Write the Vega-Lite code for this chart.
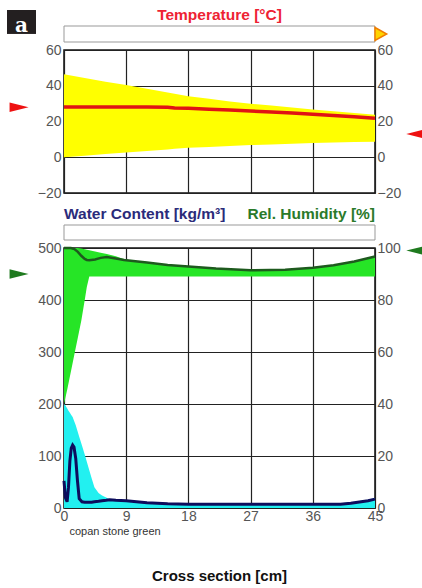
{
  "$schema": "https://vega.github.io/schema/vega-lite/v6.json",
  "background": "white",
  "padding": {"left": 6, "top": 8, "right": 0, "bottom": 0},
  "bounds": "flush",
  "spacing": 8,
  "title": {
    "text": "Cross section [cm]",
    "orient": "bottom",
    "frame": "group",
    "anchor": "middle",
    "offset": 32,
    "fontSize": 15,
    "fontWeight": "bold",
    "color": "#111111"
  },
  "config": {
    "font": "Liberation Sans",
    "view": {"stroke": "#111111", "strokeWidth": 1.5},
    "axis": {
      "labelFont": "Liberation Sans",
      "labelFontSize": 14,
      "labelColor": "#555555",
      "ticks": false,
      "domain": false,
      "gridColor": "#222222",
      "gridOpacity": 1,
      "gridWidth": 1.2,
      "labelOverlap": false,
      "labelFlush": false,
      "zindex": 1
    }
  },
  "datasets": {
    "temp": [
      {"x": 0, "lo": 0, "hi": 46.4, "t": 28.1},
      {"x": 3, "lo": 0.9, "hi": 44.3, "t": 28.1},
      {"x": 6, "lo": 1.8, "hi": 42.3, "t": 28.1},
      {"x": 9, "lo": 2.6, "hi": 40.4, "t": 28.1},
      {"x": 12, "lo": 3.5, "hi": 38.3, "t": 28.1},
      {"x": 15, "lo": 4.4, "hi": 36.2, "t": 28.0},
      {"x": 16, "lo": 4.7, "hi": 35.5, "t": 27.6},
      {"x": 18, "lo": 5.3, "hi": 34.1, "t": 27.4},
      {"x": 21, "lo": 5.8, "hi": 32.7, "t": 26.9},
      {"x": 24, "lo": 6.3, "hi": 31.2, "t": 26.4},
      {"x": 27, "lo": 6.8, "hi": 30.0, "t": 25.9},
      {"x": 30, "lo": 7.2, "hi": 28.9, "t": 25.3},
      {"x": 33, "lo": 7.6, "hi": 27.8, "t": 24.7},
      {"x": 36, "lo": 8.0, "hi": 26.7, "t": 24.1},
      {"x": 39, "lo": 8.3, "hi": 25.7, "t": 23.4},
      {"x": 42, "lo": 8.5, "hi": 24.7, "t": 22.6},
      {"x": 45, "lo": 8.7, "hi": 23.8, "t": 21.8}
    ],
    "wc": [
      {"x": 0, "wc": 52, "hi": 200},
      {"x": 0.2, "wc": 20, "hi": 197},
      {"x": 0.45, "wc": 12, "hi": 192},
      {"x": 0.65, "wc": 40, "hi": 187},
      {"x": 0.85, "wc": 90, "hi": 183},
      {"x": 1.05, "wc": 115, "hi": 179},
      {"x": 1.25, "wc": 121, "hi": 175},
      {"x": 1.45, "wc": 117, "hi": 168},
      {"x": 1.7, "wc": 95, "hi": 159},
      {"x": 1.95, "wc": 52, "hi": 148},
      {"x": 2.2, "wc": 18, "hi": 137},
      {"x": 2.6, "wc": 12, "hi": 120},
      {"x": 3.0, "wc": 11, "hi": 103},
      {"x": 3.5, "wc": 11, "hi": 80},
      {"x": 4.0, "wc": 11, "hi": 57},
      {"x": 4.4, "wc": 12, "hi": 40},
      {"x": 5.0, "wc": 13, "hi": 29},
      {"x": 5.5, "wc": 14, "hi": 24},
      {"x": 6.1, "wc": 15, "hi": 20},
      {"x": 6.6, "wc": 16, "hi": 17},
      {"x": 7.5, "wc": 15, "hi": 16},
      {"x": 9, "wc": 14, "hi": 15},
      {"x": 10.5, "wc": 12, "hi": 13},
      {"x": 12, "wc": 10, "hi": 11},
      {"x": 15, "wc": 8, "hi": 9},
      {"x": 18, "wc": 7, "hi": 8},
      {"x": 24, "wc": 7, "hi": 8},
      {"x": 30, "wc": 7, "hi": 8},
      {"x": 36, "wc": 7, "hi": 8},
      {"x": 40, "wc": 7, "hi": 9},
      {"x": 41.5, "wc": 9, "hi": 11},
      {"x": 43, "wc": 12, "hi": 14},
      {"x": 44, "wc": 14, "hi": 16},
      {"x": 45, "wc": 17, "hi": 19}
    ],
    "rh": [
      {"x": 0, "lo": 40, "hi": 100, "rh": 100},
      {"x": 0.5, "lo": 46, "hi": 100, "rh": 100},
      {"x": 1.0, "lo": 52.5, "hi": 100, "rh": 100},
      {"x": 1.5, "lo": 59, "hi": 100, "rh": 99.6},
      {"x": 2.0, "lo": 65.5, "hi": 100, "rh": 98.5},
      {"x": 2.5, "lo": 72, "hi": 99.8, "rh": 97},
      {"x": 3.0, "lo": 80, "hi": 99.5, "rh": 95.8},
      {"x": 3.3, "lo": 85, "hi": 99.3, "rh": 95.4},
      {"x": 3.66, "lo": 89, "hi": 99.1, "rh": 95.3},
      {"x": 4.5, "lo": 89, "hi": 98.7, "rh": 95.6},
      {"x": 5.3, "lo": 89, "hi": 98.2, "rh": 96.2},
      {"x": 6.2, "lo": 89, "hi": 97.7, "rh": 96.5},
      {"x": 7.5, "lo": 89, "hi": 96.8, "rh": 96.0},
      {"x": 8.7, "lo": 89, "hi": 95.7, "rh": 95.4},
      {"x": 10, "lo": 89, "hi": 95.0, "rh": 95.0},
      {"x": 12, "lo": 89, "hi": 94.4, "rh": 94.4},
      {"x": 15, "lo": 89, "hi": 93.5, "rh": 93.5},
      {"x": 18, "lo": 89, "hi": 92.9, "rh": 92.9},
      {"x": 22, "lo": 89, "hi": 92.1, "rh": 92.1},
      {"x": 27, "lo": 89, "hi": 91.4, "rh": 91.4},
      {"x": 32, "lo": 89, "hi": 91.6, "rh": 91.6},
      {"x": 36, "lo": 89, "hi": 92.4, "rh": 92.4},
      {"x": 39, "lo": 89, "hi": 93.4, "rh": 93.4},
      {"x": 42, "lo": 89, "hi": 94.8, "rh": 94.8},
      {"x": 45, "lo": 89, "hi": 96.7, "rh": 96.7}
    ]
  },
  "vconcat": [
    {
      "width": 311,
      "height": 32,
      "view": {"stroke": null},
      "layer": [
        {
          "data": {"values": [{"start": 0, "end": 45, "row": "bar"}]},
          "mark": {"type": "rect", "fill": "white", "stroke": "#999999", "strokeWidth": 1},
          "encoding": {
            "x": {"field": "start", "type": "quantitative", "scale": {"domain": [0, 45], "nice": false, "zero": false}, "axis": null},
            "x2": {"field": "end"},
            "y": {"field": "row", "type": "nominal", "scale": {"domain": ["title", "bar"], "paddingInner": 0, "paddingOuter": 0}, "axis": null}
          }
        },
        {
          "data": {"values": [{"pos": 45, "row": "bar"}]},
          "mark": {"type": "point", "shape": "M0,-1L1.8,0L0,1Z", "size": 169, "filled": true, "fill": "#ffd400", "stroke": "#f07d00", "strokeWidth": 1.5, "opacity": 1},
          "encoding": {
            "x": {"field": "pos", "type": "quantitative"},
            "y": {"field": "row", "type": "nominal"}
          }
        },
        {
          "data": {"values": [{"pos": 22.5, "row": "title", "label": "Temperature [°C]"}]},
          "mark": {"type": "text", "fontSize": 15.5, "fontWeight": "bold", "color": "#ee2233", "dy": -3},
          "encoding": {
            "x": {"field": "pos", "type": "quantitative"},
            "y": {"field": "row", "type": "nominal"},
            "text": {"field": "label"}
          }
        },
        {
          "data": {"values": [{"pos": -6.15, "row": "title", "label": "a"}]},
          "layer": [
            {
              "mark": {"type": "point", "shape": "M-1,-0.55H1V1.1H-1Z", "size": 841, "filled": true, "color": "#231f20", "opacity": 1},
              "encoding": {
                "x": {"field": "pos", "type": "quantitative"},
                "y": {"field": "row", "type": "nominal"}
              }
            },
            {
              "mark": {"type": "text", "font": "DejaVu Serif", "fontWeight": "bold", "fontSize": 20, "color": "white", "baseline": "alphabetic", "dy": 13.5},
              "encoding": {
                "x": {"field": "pos", "type": "quantitative"},
                "y": {"field": "row", "type": "nominal"},
                "text": {"field": "label"}
              }
            }
          ]
        }
      ]
    },
    {
      "width": 311,
      "height": 143,
      "layer": [
        {
          "layer": [
            {
              "data": {"name": "temp"},
              "mark": {"type": "area", "color": "#ffff00", "opacity": 1},
              "encoding": {
                "x": {"field": "x", "type": "quantitative", "scale": {"domain": [0, 45], "nice": false, "zero": false}, "axis": {"values": [0, 9, 18, 27, 36, 45], "labels": false, "grid": true}, "title": null},
                "y": {"field": "lo", "type": "quantitative", "scale": {"domain": [-20, 60], "nice": false}, "axis": {"values": [-20, 0, 20, 40, 60], "grid": true, "labelPadding": 3}, "title": null},
                "y2": {"field": "hi"}
              }
            },
            {
              "data": {"name": "temp"},
              "mark": {"type": "line", "color": "#e01414", "strokeWidth": 3.5},
              "encoding": {
                "x": {"field": "x", "type": "quantitative"},
                "y": {"field": "t", "type": "quantitative", "axis": {"values": [-20, 0, 20, 40, 60], "grid": true, "labelPadding": 3}, "title": null}
              }
            },
            {
              "data": {"values": [{"x": -6.5, "v": 28}]},
              "mark": {"type": "point", "shape": "M-1,-0.5L1,0L-1,0.5Z", "size": 361, "filled": true, "color": "#ee1111", "opacity": 1},
              "encoding": {
                "x": {"field": "x", "type": "quantitative"},
                "y": {"field": "v", "type": "quantitative", "axis": {"values": [-20, 0, 20, 40, 60], "grid": true, "labelPadding": 3}, "title": null}
              }
            }
          ]
        },
        {
          "data": {"values": [{"x": 50.9, "v": 13}]},
          "mark": {"type": "point", "shape": "M1,-0.5L-1,0L1,0.5Z", "size": 361, "filled": true, "color": "#ee1111", "opacity": 1},
          "encoding": {
            "x": {"field": "x", "type": "quantitative"},
            "y": {"field": "v", "type": "quantitative", "scale": {"domain": [-20, 60], "nice": false}, "axis": {"orient": "right", "values": [-20, 0, 20, 40, 60], "grid": false, "labelPadding": 2}, "title": null}
          }
        }
      ],
      "resolve": {"scale": {"y": "independent"}}
    },
    {
      "width": 311,
      "height": 39,
      "view": {"stroke": null},
      "layer": [
        {
          "data": {"values": [{"start": 0, "end": 45, "row": "bar"}]},
          "mark": {"type": "rect", "fill": "white", "stroke": "#999999", "strokeWidth": 1},
          "encoding": {
            "x": {"field": "start", "type": "quantitative", "scale": {"domain": [0, 45], "nice": false, "zero": false}, "axis": null},
            "x2": {"field": "end"},
            "y": {"field": "row", "type": "nominal", "scale": {"domain": ["title", "bar"], "paddingInner": 0, "paddingOuter": 0.3, "align": 1}, "axis": null}
          }
        },
        {
          "data": {"values": [{"pos": 0, "row": "title", "label": "Water Content [kg/m³]"}]},
          "mark": {"type": "text", "fontSize": 15.5, "fontWeight": "bold", "color": "#2b2b7a", "align": "left", "dy": -4},
          "encoding": {
            "x": {"field": "pos", "type": "quantitative"},
            "y": {"field": "row", "type": "nominal"},
            "text": {"field": "label"}
          }
        },
        {
          "data": {"values": [{"pos": 45, "row": "title", "label": "Rel. Humidity [%]"}]},
          "mark": {"type": "text", "fontSize": 15.5, "fontWeight": "bold", "color": "#2a7a2a", "align": "right", "dy": -4},
          "encoding": {
            "x": {"field": "pos", "type": "quantitative"},
            "y": {"field": "row", "type": "nominal"},
            "text": {"field": "label"}
          }
        }
      ]
    },
    {
      "width": 311,
      "height": 260,
      "layer": [
        {
          "data": {"name": "wc"},
          "layer": [
            {
              "mark": {"type": "area", "color": "#22f0f0", "opacity": 1},
              "encoding": {
                "x": {"field": "x", "type": "quantitative", "scale": {"domain": [0, 45], "nice": false, "zero": false}, "axis": {"values": [0, 9, 18, 27, 36, 45], "grid": true, "labelPadding": 1, "titleAnchor": "start", "titleFontSize": 11, "titleFontWeight": "normal", "titleColor": "#333333", "titlePadding": 2, "titleX": 5, "titleAlign": "left"}, "title": "copan stone green"},
                "y": {"field": "hi", "type": "quantitative", "scale": {"domain": [0, 500], "nice": false}, "axis": {"values": [0, 100, 200, 300, 400, 500], "grid": true, "labelPadding": 3}, "title": null},
                "y2": {"datum": 0}
              }
            },
            {
              "mark": {"type": "line", "color": "#0d0d5c", "strokeWidth": 3},
              "encoding": {
                "x": {"field": "x", "type": "quantitative"},
                "y": {"field": "wc", "type": "quantitative", "axis": {"values": [0, 100, 200, 300, 400, 500], "grid": true, "labelPadding": 3}, "title": null}
              }
            }
          ]
        },
        {
          "layer": [
            {
              "data": {"name": "rh"},
              "mark": {"type": "area", "color": "#26e526", "opacity": 1},
              "encoding": {
                "x": {"field": "x", "type": "quantitative"},
                "y": {"field": "lo", "type": "quantitative", "scale": {"domain": [0, 100], "nice": false}, "axis": {"orient": "right", "values": [0, 20, 40, 60, 80, 100], "grid": false, "labelPadding": 2}, "title": null},
                "y2": {"field": "hi"}
              }
            },
            {
              "data": {"name": "rh"},
              "mark": {"type": "line", "color": "#1e5a1e", "strokeWidth": 2.5},
              "encoding": {
                "x": {"field": "x", "type": "quantitative"},
                "y": {"field": "rh", "type": "quantitative", "axis": {"orient": "right", "values": [0, 20, 40, 60, 80, 100], "grid": false, "labelPadding": 2}, "title": null}
              }
            },
            {
              "data": {"values": [{"x": -6.5, "v": 90}]},
              "mark": {"type": "point", "shape": "M-1,-0.5L1,0L-1,0.5Z", "size": 361, "filled": true, "color": "#1f7a1f", "opacity": 1},
              "encoding": {
                "x": {"field": "x", "type": "quantitative"},
                "y": {"field": "v", "type": "quantitative", "axis": {"orient": "right", "values": [0, 20, 40, 60, 80, 100], "grid": false, "labelPadding": 2}, "title": null}
              }
            },
            {
              "data": {"values": [{"x": 50.9, "v": 99}]},
              "mark": {"type": "point", "shape": "M1,-0.5L-1,0L1,0.5Z", "size": 361, "filled": true, "color": "#1f7a1f", "opacity": 1},
              "encoding": {
                "x": {"field": "x", "type": "quantitative"},
                "y": {"field": "v", "type": "quantitative", "axis": {"orient": "right", "values": [0, 20, 40, 60, 80, 100], "grid": false, "labelPadding": 2}, "title": null}
              }
            }
          ]
        }
      ],
      "resolve": {"scale": {"y": "independent"}}
    }
  ]
}
